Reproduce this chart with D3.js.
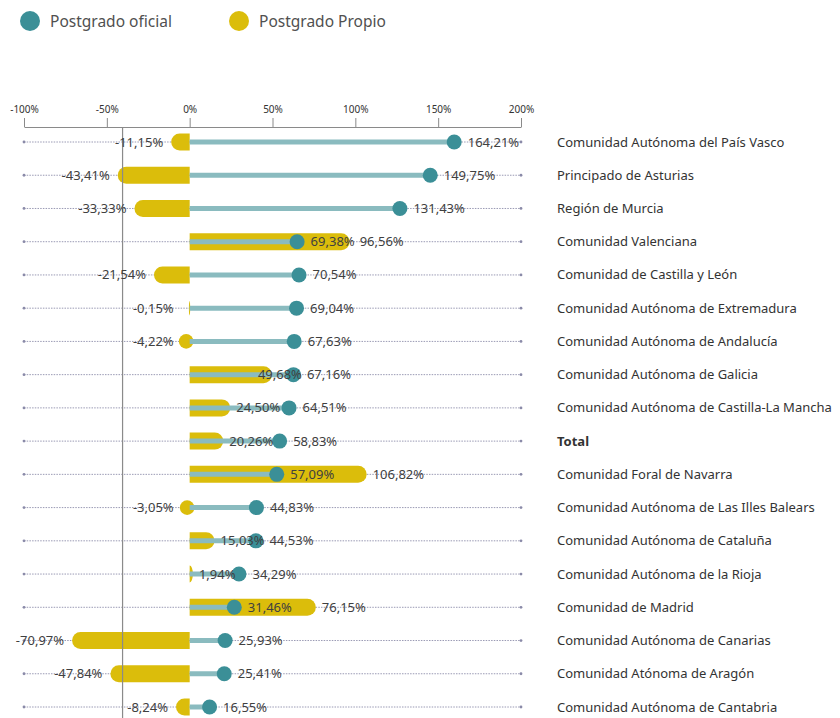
<!DOCTYPE html>
<html>
<head>
<meta charset="utf-8">
<script src="https://cdn.jsdelivr.net/npm/d3@7"></script>
<style>
  html, body { margin: 0; padding: 0; background: #fff; }
  svg { display: block; font-family: "Noto Sans", "Open Sans", sans-serif; }
</style>
</head>
<body>
<svg id="chart" width="840" height="718"></svg>
<script>
const categories = [
  "Comunidad Autónoma del País Vasco",
  "Principado de Asturias",
  "Región de Murcia",
  "Comunidad Valenciana",
  "Comunidad de Castilla y León",
  "Comunidad Autónoma de Extremadura",
  "Comunidad Autónoma de Andalucía",
  "Comunidad Autónoma de Galicia",
  "Comunidad Autónoma de Castilla-La Mancha",
  "Total",
  "Comunidad Foral de Navarra",
  "Comunidad Autónoma de Las Illes Balears",
  "Comunidad Autónoma de Cataluña",
  "Comunidad Autónoma de la Rioja",
  "Comunidad de Madrid",
  "Comunidad Autónoma de Canarias",
  "Comunidad Atónoma de Aragón",
  "Comunidad Autónoma de Cantabria"
];
const oficial = [164.21,149.75,131.43,69.38,70.54,69.04,67.63,67.16,64.51,58.83,57.09,44.83,44.53,34.29,31.46,25.93,25.41,16.55];
const propio  = [-11.15,-43.41,-33.33,96.56,-21.54,-0.15,-4.22,49.68,24.50,20.26,106.82,-3.05,15.03,1.94,76.15,-70.97,-47.84,-8.24];
const tickValues = [-100,-50,0,50,100,150,200];
const seriesNames = ["Postgrado oficial", "Postgrado Propio"];
const referenceValue = -40.5;

const TEAL = "#3b8f97", TEAL_LINE = "#8abbbf", YELLOW = "#dbbd0b", TEXT = "#404040";

const svg = d3.select("#chart");
const locale = d3.formatLocale({decimal: ",", thousands: ".", grouping: [3], currency: ["", "€"], minus: "-"});
const fmt = v => locale.format(".2f")(v) + "%";

const x = d3.scaleLinear().domain([-100, 200]).range([24, 521]);
const y = d3.scalePoint().domain(categories).range([142, 707]);

// Legend
const legend = svg.append("g");
[[30, 50, TEAL], [239, 259, YELLOW]].forEach((p, i) => {
  legend.append("circle").attr("cx", p[0]).attr("cy", 21).attr("r", 10).attr("fill", p[2]);
  legend.append("text").attr("x", p[1]).attr("y", 27).attr("font-size", 15.5)
    .attr("fill", "#505050").text(seriesNames[i]);
});

// Axis
const axisG = svg.append("g").attr("transform", "translate(0,127)")
  .call(d3.axisTop(x).tickValues(tickValues).tickFormat(d => d + "%").tickSize(9).tickSizeOuter(0).tickPadding(5));
axisG.select(".domain").attr("stroke", "#8a8a8a");
axisG.selectAll(".tick line").attr("stroke", "#8a8a8a");
axisG.selectAll(".tick text").attr("fill", "#333").attr("font-size", 10)
  .attr("font-family", "'Noto Sans', sans-serif");

// Row guide lines
const rows = svg.append("g");
categories.forEach(c => {
  const yy = y(c);
  rows.append("line").attr("x1", x(-100)).attr("x2", x(200)).attr("y1", yy).attr("y2", yy)
    .attr("stroke", "#9a9ab4").attr("stroke-width", 1).attr("stroke-dasharray", "1.5,1.2");
  [x(-100), x(200)].forEach(cx => rows.append("circle").attr("cx", cx).attr("cy", yy).attr("r", 1.4).attr("fill", "#8a8aa8"));
});

// Yellow bars (Postgrado Propio)
const H = 17, R = 8.5, DOT = 7.5;
function barPath(v, yy) {
  const x0 = x(0), x1 = x(v);
  const dir = v >= 0 ? 1 : -1;
  const len = Math.abs(x1 - x0);
  const rx = Math.max(0.01, Math.min(R, len));
  const sweep = dir > 0 ? 1 : 0;
  return `M${x0},${yy - H/2} L${x1 - dir*rx},${yy - H/2} A${rx},${R} 0 0 ${sweep} ${x1},${yy} A${rx},${R} 0 0 ${sweep} ${x1 - dir*rx},${yy + H/2} L${x0},${yy + H/2} Z`;
}
const bars = svg.append("g");
categories.forEach((c, i) => {
  const v = propio[i];
  const len = Math.abs(x(v) - x(0));
  if (len < R && v < 0) {
    // very short bars render as a small blob centred between 0 and the value
    bars.append("ellipse").attr("cx", (x(v) + x(0)) / 2).attr("cy", y(c))
      .attr("rx", Math.min(7.3, len * 2.5)).attr("ry", 7.3).attr("fill", YELLOW);
  } else {
    bars.append("path").attr("d", barPath(v, y(c))).attr("fill", YELLOW);
  }
});

// Teal lines (Postgrado oficial) - dot's right edge at value
const tealLines = svg.append("g");
categories.forEach((c, i) => {
  const cx = x(oficial[i]) - DOT;
  tealLines.append("line").attr("x1", x(0)).attr("x2", cx).attr("y1", y(c)).attr("y2", y(c))
    .attr("stroke", TEAL_LINE).attr("stroke-width", 5);
});

// Reference vertical line
svg.append("line").attr("x1", x(referenceValue)).attr("x2", x(referenceValue))
  .attr("y1", 127).attr("y2", 718).attr("stroke", "#8a8a8a").attr("stroke-width", 1.2);

const dots = svg.append("g");
categories.forEach((c, i) => {
  const cx = x(oficial[i]) - DOT;
  dots.append("circle").attr("cx", cx).attr("cy", y(c)).attr("r", DOT).attr("fill", TEAL);
});

// Value labels
const labels = svg.append("g").attr("font-size", 13).attr("fill", TEXT);
categories.forEach((c, i) => {
  const yy = y(c) + 4.5;
  const dotRight = x(oficial[i]);
  const tl = labels.append("text").attr("y", yy).text(fmt(oficial[i]));
  const yl = labels.append("text").attr("y", yy).text(fmt(propio[i]));
  const tw = tl.node().getComputedTextLength();
  const yw = yl.node().getComputedTextLength();
  const tx = dotRight + 6;
  const yEnd = x(propio[i]);
  if (propio[i] < 0) {
    yl.attr("x", Math.min(yEnd, x(0) - 8) - 8 - yw);
  } else if (yEnd > dotRight) {
    yl.attr("x", Math.max(yEnd + 6, tx + tw + 5));
  } else {
    let yx = yEnd + 6;
    if (yx + yw > tx - 4) yx = tx - 5 - yw;
    yl.attr("x", yx);
  }
  tl.attr("x", tx);
});

// Category labels
const cats = svg.append("g").attr("font-size", 13).attr("fill", "#333");
categories.forEach(c => {
  cats.append("text").attr("x", 557).attr("y", y(c) + 4.5)
    .attr("font-weight", c === "Total" ? "bold" : "normal").text(c);
});
</script>
</body>
</html>
